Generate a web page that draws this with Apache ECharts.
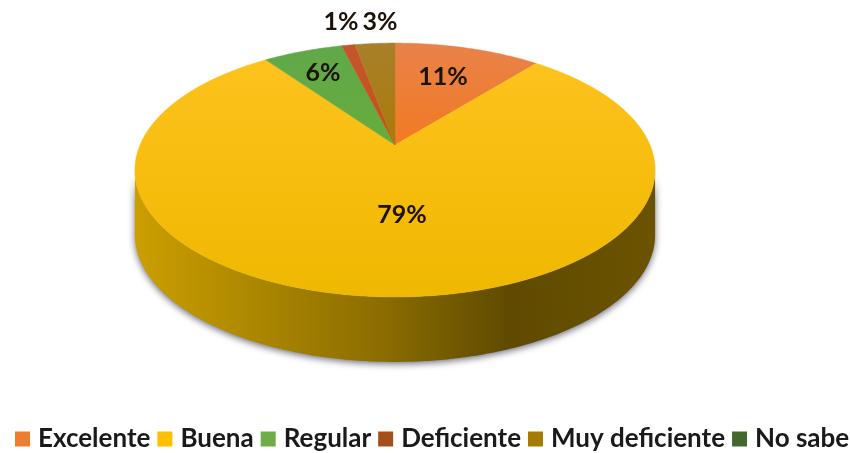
<!DOCTYPE html>
<html>
<head>
<meta charset="utf-8">
<script src="https://cdn.jsdelivr.net/npm/echarts@6/dist/echarts.min.js"></script>
<style>
html, body { margin: 0; padding: 0; background: #fff; }
#chart { width: 850px; height: 453px; }
</style>
</head>
<body>
<div id="chart"></div>
<script>
const categories = ['Excelente', 'Buena', 'Regular', 'Deficiente', 'Muy deficiente', 'No sabe']
const values = [11, 79, 6, 1, 3, 0]

// colores de la leyenda y de la cara superior
const legendColors = ['#ed7d31', '#ffc000', '#70ad47', '#a5501a', '#a67c00', '#43682b']
const topColors = [
  ['#e8824a', '#f27a22'],
  ['#ffc31f', '#efb800'],
  ['#60a84a', '#68ac3c'],
  ['#c5552f', '#c9500f'],
  ['#a8802a', '#aa7a08'],
  ['#43682b', '#43682b']
]
// posicion de cada etiqueta (movidas a mano en el original)
const labelPos = [[443, 77], [402, 215], [323, 73], [341, 22], [380, 22], null]

// pastel en perspectiva: el centro queda mas arriba que el centro de la elipse
const apex = { x: 395, y: 145 }
const radiusX = 255
const radiusY = 122
const tilt = 0.197
const depth = 65

const total = values.reduce((a, b) => a + b, 0)

function project (angle) {
  const u = Math.sin(angle)
  const v = Math.cos(angle)
  const w = 1 + tilt * v
  return [apex.x + radiusX * u / w, apex.y - radiusY * v / w]
}

function arcPoints (start, end) {
  const pts = []
  const steps = Math.max(2, Math.ceil((end - start) / 0.01))
  for (let i = 0; i <= steps; i++) {
    pts.push(project(start + (end - start) * i / steps))
  }
  return pts
}

const sliceAngles = []
let acc = 0
for (const v of values) {
  const start = acc / total * Math.PI * 2
  acc += v
  sliceAngles.push([start, acc / total * Math.PI * 2])
}

// solo se ve la pared entre los dos extremos de la elipse
const frontStart = Math.acos(-tilt)
const frontEnd = Math.PI * 2 - frontStart

const wallFill = new echarts.graphic.LinearGradient(135, 0, 655, 0, [
  { offset: 0, color: '#cb9f00' },
  { offset: 0.2, color: '#b08a00' },
  { offset: 0.45, color: '#8f7000' },
  { offset: 0.72, color: '#5f4a00' },
  { offset: 1, color: '#6b5300' }
], true)

function renderWall (params) {
  const start = Math.max(sliceAngles[params.dataIndex][0], frontStart)
  const end = Math.min(sliceAngles[params.dataIndex][1], frontEnd)
  if (end <= start) return { type: 'group', children: [] }
  const rim = arcPoints(start, end)
  const lower = rim.map(p => [p[0], p[1] + depth]).reverse()
  return {
    type: 'polygon',
    shape: { points: rim.concat(lower) },
    style: {
      fill: wallFill,
      shadowBlur: 7,
      shadowColor: 'rgba(60,60,80,0.75)',
      shadowOffsetY: 2
    }
  }
}

function renderSlice (index) {
  const [start, end] = sliceAngles[index]
  if (end <= start) return { type: 'group', children: [] }
  const fill = new echarts.graphic.LinearGradient(0, 43, 0, index === 1 ? 297 : 145, [
    { offset: 0, color: topColors[index][0] },
    { offset: 1, color: topColors[index][1] }
  ], true)
  const points = [[apex.x, apex.y]].concat(arcPoints(start, end))
  const children = [{
    type: 'polygon',
    shape: { points: points },
    style: { fill: fill, stroke: fill, lineWidth: 0.5 }
  }]
  if (labelPos[index]) {
    children.push({
      type: 'text',
      x: labelPos[index][0],
      y: labelPos[index][1],
      z2: 10,
      style: {
        text: values[index] + '%',
        font: 'bold 25px Lato',
        fill: '#1c1208',
        align: 'center',
        verticalAlign: 'middle'
      }
    })
  }
  return { type: 'group', children: children }
}

const seriesData = [{
  name: 'wall',
  type: 'custom',
  coordinateSystem: 'none',
  z: 1,
  silent: true,
  data: values,
  renderItem: renderWall
}]
categories.forEach((name, i) => {
  seriesData.push({
    name: name,
    type: 'custom',
    coordinateSystem: 'none',
    z: i === 3 || i === 4 ? 3 : 2,
    silent: true,
    itemStyle: { color: legendColors[i] },
    data: [values[i]],
    renderItem: () => renderSlice(i)
  })
})

const chart = echarts.init(document.getElementById('chart'), null, { renderer: 'canvas' })
chart.setOption({
  animation: false,
  backgroundColor: '#fff',
  legend: {
    data: categories,
    left: 15,
    top: 426,
    icon: 'rect',
    itemWidth: 15,
    itemHeight: 15,
    itemGap: 7,
    padding: 0,
    selectedMode: false,
    textStyle: {
      fontFamily: 'Lato',
      fontWeight: 'bold',
      fontSize: 26,
      color: '#1a1a1a',
      padding: [0, 0, 0, 3]
    }
  },
  series: seriesData
})
</script>
</body>
</html>
